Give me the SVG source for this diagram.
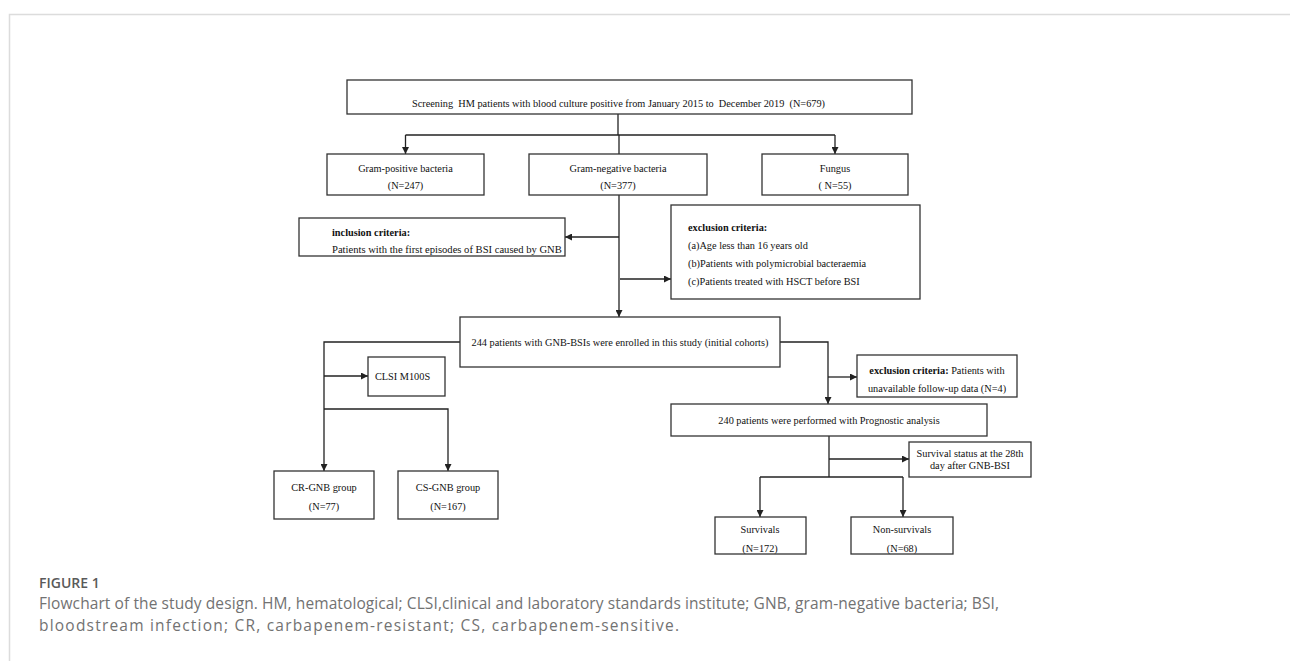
<svg xmlns="http://www.w3.org/2000/svg" width="1290" height="661" viewBox="0 0 1290 661">
<style>
.box{fill:#fff;stroke:#333;stroke-width:1.3}
.t{font-family:"Liberation Serif","Times New Roman",serif;font-size:10.3px;fill:#111}
.c{text-anchor:middle}
.b{font-weight:bold}
.ln{fill:none;stroke:#222;stroke-width:1.3}
.cap{font-family:"Open Sans","Noto Sans",sans-serif;font-size:15.5px;fill:#727272}
.fig{font-family:"Open Sans","Noto Sans",sans-serif;font-size:14px;font-weight:600;fill:#5a5a5a}
</style>
<defs>
<marker id="ah" viewBox="0 0 10 10" refX="10" refY="5" markerWidth="7" markerHeight="7" orient="auto" markerUnits="userSpaceOnUse">
<path d="M0,0 L10,5 L0,10 z" fill="#222"/>
</marker>
</defs>
<rect x="0" y="0" width="1290" height="661" fill="#fff"/>
<path d="M9.5,661 V14.5 H1290" fill="none" stroke="#dcdcdc" stroke-width="1.5"/>

<g id="connectors">
<path class="ln" d="M618,114 V135"/>
<path class="ln" d="M405.5,135 H835"/>
<path class="ln" d="M405.5,135 V154" marker-end="url(#ah)"/>
<path class="ln" d="M835,135 V154" marker-end="url(#ah)"/>
<path class="ln" d="M619,135 V154"/>
<path class="ln" d="M619,195 V317" marker-end="url(#ah)"/>
<path class="ln" d="M619,237 H565" marker-end="url(#ah)"/>
<path class="ln" d="M620,279 H671" marker-end="url(#ah)"/>
<path class="ln" d="M460,342 H324 V471" marker-end="url(#ah)"/>
<path class="ln" d="M324,376 H368" marker-end="url(#ah)"/>
<path class="ln" d="M324,409 H448 V471" marker-end="url(#ah)"/>
<path class="ln" d="M780,342 H828 V404" marker-end="url(#ah)"/>
<path class="ln" d="M828,377 H857" marker-end="url(#ah)"/>
<path class="ln" d="M829,436 V477"/>
<path class="ln" d="M829,459 H909" marker-end="url(#ah)"/>
<path class="ln" d="M760,477 H903"/>
<path class="ln" d="M760,477 V517" marker-end="url(#ah)"/>
<path class="ln" d="M903,477 V517" marker-end="url(#ah)"/>
</g>

<g id="screening">
<rect class="box" x="347" y="80" width="565" height="34"/>
<text class="t c" x="618.5" y="107" xml:space="preserve">Screening  HM patients with blood culture positive from January 2015 to  December 2019  (N=679)</text>
</g>
<g id="gram-positive">
<rect class="box" x="327" y="154" width="157" height="41"/>
<text class="t c" x="405.5" y="172">Gram-positive bacteria</text>
<text class="t c" x="405.5" y="189">(N=247)</text>
</g>
<g id="gram-negative">
<rect class="box" x="529" y="154" width="178" height="41"/>
<text class="t c" x="618" y="172">Gram-negative bacteria</text>
<text class="t c" x="618" y="189">(N=377)</text>
</g>
<g id="fungus">
<rect class="box" x="762" y="154" width="146" height="41"/>
<text class="t c" x="835" y="172">Fungus</text>
<text class="t c" x="835" y="189" xml:space="preserve">( N=55)</text>
</g>
<g id="inclusion">
<rect class="box" x="299" y="218" width="266" height="38"/>
<text class="t b" x="332" y="236">inclusion criteria:</text>
<text class="t" x="332" y="253" style="font-size:10.6px">Patients with the first episodes of BSI caused by GNB</text>
</g>
<g id="exclusion">
<rect class="box" x="671" y="205" width="249" height="94"/>
<text class="t b" x="688" y="231">exclusion criteria:</text>
<text class="t" x="688" y="249">(a)Age less than 16 years old</text>
<text class="t" x="688" y="267">(b)Patients with polymicrobial bacteraemia</text>
<text class="t" x="688" y="285">(c)Patients treated with HSCT before BSI</text>
</g>
<g id="enrolled">
<rect class="box" x="460" y="317" width="320" height="50"/>
<text class="t c" x="620" y="346">244 patients with GNB-BSIs were enrolled in this study (initial cohorts)</text>
</g>
<g id="clsi">
<rect class="box" x="368" y="357" width="77" height="39"/>
<text class="t c" x="402.5" y="380">CLSI M100S</text>
</g>
<g id="cr-gnb">
<rect class="box" x="274" y="471" width="100" height="48"/>
<text class="t c" x="324" y="491">CR-GNB group</text>
<text class="t c" x="324" y="510">(N=77)</text>
</g>
<g id="cs-gnb">
<rect class="box" x="398" y="471" width="100" height="48"/>
<text class="t c" x="448" y="491">CS-GNB group</text>
<text class="t c" x="448" y="510">(N=167)</text>
</g>
<g id="exclusion2">
<rect class="box" x="857" y="355" width="160" height="42"/>
<text class="t c" x="937" y="374"><tspan class="b">exclusion criteria:</tspan> Patients with</text>
<text class="t c" x="937" y="392">unavailable follow-up data (N=4)</text>
</g>
<g id="prognostic">
<rect class="box" x="671" y="404" width="316" height="32"/>
<text class="t c" x="829" y="424">240 patients were performed with Prognostic analysis</text>
</g>
<g id="survival-status">
<rect class="box" x="909" y="442" width="122" height="35"/>
<text class="t c" x="970" y="457">Survival status at the 28th</text>
<text class="t c" x="970" y="469">day after GNB-BSI</text>
</g>
<g id="survivals">
<rect class="box" x="715" y="517" width="91" height="37"/>
<text class="t c" x="760" y="533">Survivals</text>
<text class="t c" x="760" y="552">(N=172)</text>
</g>
<g id="non-survivals">
<rect class="box" x="851" y="517" width="102" height="37"/>
<text class="t c" x="902" y="533">Non-survivals</text>
<text class="t c" x="902" y="552">(N=68)</text>
</g>

<g id="caption">
<text class="fig" x="39" y="588">FIGURE 1</text>
<text class="cap" x="39" y="609" textLength="960">Flowchart of the study design. HM, hematological; CLSI,clinical and laboratory standards institute; GNB, gram-negative bacteria; BSI,</text>
<text class="cap" x="39" y="631" textLength="640">bloodstream infection; CR, carbapenem-resistant; CS, carbapenem-sensitive.</text>
</g>
</svg>
